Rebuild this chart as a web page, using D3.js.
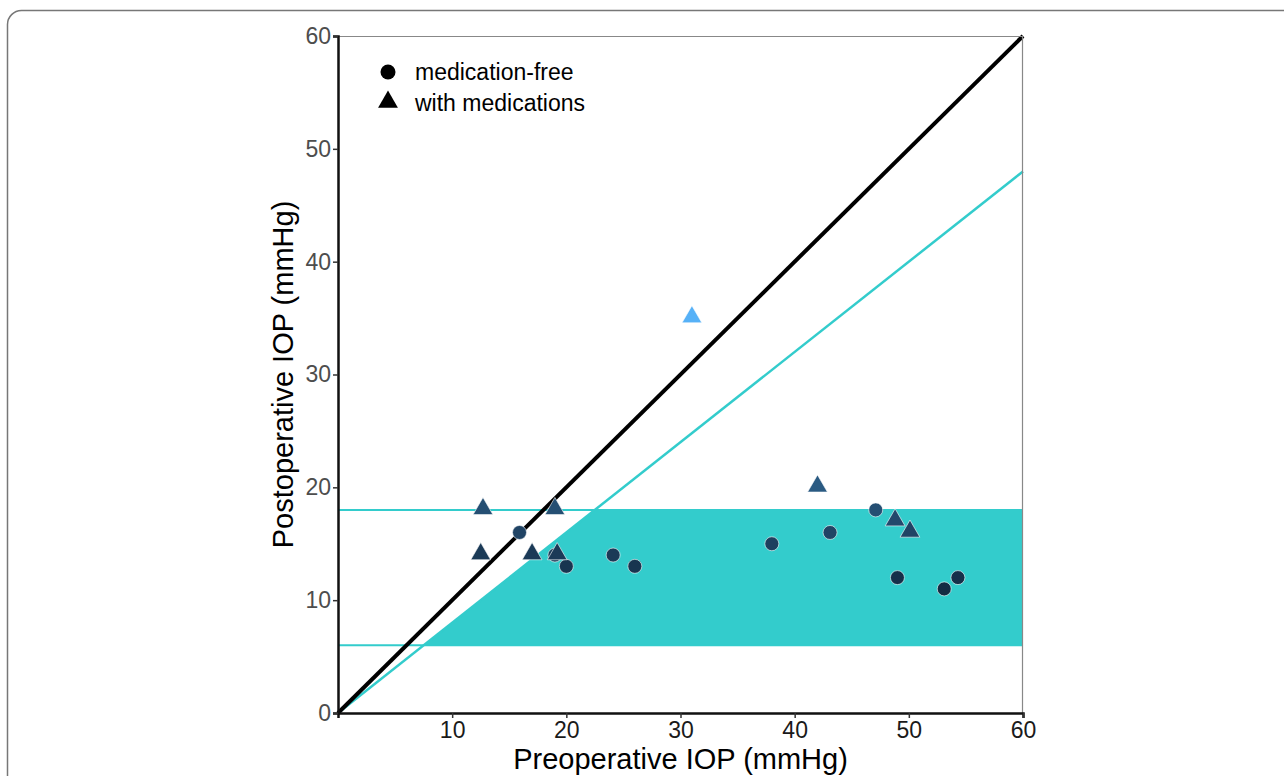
<!DOCTYPE html>
<html>
<head>
<meta charset="utf-8">
<script src="https://cdn.jsdelivr.net/npm/d3@7"></script>
<style>
  body { margin: 0; background: #fff; }
  text { font-family: "Liberation Sans", Arial, sans-serif; }
</style>
</head>
<body>
<div id="chart"></div>
<script>
// preoperative / postoperative IOP (mmHg)
const freePre = [15.9, 19.0, 20.0, 24.1, 26.0, 38.0, 43.1, 47.1, 49.0, 53.1, 54.3];
const freePost = [16, 14, 13, 14, 13, 15, 16, 18, 12, 11, 12];
const medPre = [12.7, 12.5, 17.0, 19.0, 19.2, 31.0, 42.0, 48.8, 50.1];
const medPost = [18, 14, 14, 18, 14, 35, 20, 17, 16];
const xTicks = [10, 20, 30, 40, 50, 60];
const yTicks = [0, 10, 20, 30, 40, 50, 60];
const successBand = [6, 18];   // target IOP range
const reductionRatio = 0.8;     // 20% reduction line

const w = 1284, h = 776;
const margin = { top: 36, right: 261, bottom: 63, left: 338 };
const innerWidth = w - margin.left - margin.right;
const innerHeight = h - margin.top - margin.bottom;

const svg = d3.select("#chart").append("svg")
  .attr("width", w)
  .attr("height", h);

// card frame
svg.append("rect")
  .attr("x", 7.5).attr("y", 10.5)
  .attr("width", w + 20).attr("height", h + 20)
  .attr("rx", 14)
  .attr("fill", "none")
  .attr("stroke", "#777")
  .attr("stroke-width", 1.5);

const xScale = d3.scaleLinear().domain([0, 60]).range([0, innerWidth]);
const yScale = d3.scaleLinear().domain([0, 60]).range([innerHeight, 0]);

const color = d3.scaleLinear()
  .domain([11, 35])
  .range(["#132B43", "#56B1F7"])
  .interpolate(d3.interpolateLab);

const g = svg.append("g")
  .attr("transform", `translate(${margin.left},${margin.top})`);

const cyan = "#33cccc";

// shaded success region: between band limits and below the 20% reduction line
const lo = successBand[0], hi = successBand[1];
const region = [
  [lo / reductionRatio, lo],
  [hi / reductionRatio, hi],
  [60, hi],
  [60, lo]
];
g.append("path")
  .attr("d", d3.line().x(d => xScale(d[0])).y(d => yScale(d[1]))(region) + "Z")
  .attr("fill", cyan);

// horizontal band lines
successBand.forEach(v => {
  g.append("line")
    .attr("x1", xScale(0)).attr("x2", xScale(60))
    .attr("y1", yScale(v)).attr("y2", yScale(v))
    .attr("stroke", cyan)
    .attr("stroke-width", 2);
});

// 20% reduction line
g.append("line")
  .attr("x1", xScale(0)).attr("y1", yScale(0))
  .attr("x2", xScale(60)).attr("y2", yScale(60 * reductionRatio))
  .attr("stroke", cyan)
  .attr("stroke-width", 2.5);

// identity line
g.append("line")
  .attr("x1", xScale(0)).attr("y1", yScale(0))
  .attr("x2", xScale(60)).attr("y2", yScale(60))
  .attr("stroke", "#000")
  .attr("stroke-width", 4);

// top/right frame
g.append("path")
  .attr("d", `M0,0.5H${innerWidth - 0.5}V${innerHeight}`)
  .attr("fill", "none")
  .attr("stroke", "#888")
  .attr("stroke-width", 1.2);

// axes
const xAxisG = g.append("g")
  .attr("transform", `translate(0,${innerHeight})`)
  .call(d3.axisBottom(xScale).tickValues(xTicks).tickSize(5).tickPadding(4));
const yAxisG = g.append("g")
  .call(d3.axisLeft(yScale).tickValues(yTicks).tickSize(5).tickPadding(2));

[xAxisG, yAxisG].forEach(a => {
  a.attr("font-size", null);
  a.select(".domain").attr("stroke", "#111").attr("stroke-width", 2.5);
  a.selectAll(".tick line").attr("stroke", "#333").attr("stroke-width", 1.5);
  a.selectAll("text")
    .attr("font-family", "Liberation Sans, Arial, sans-serif")
    .style("font-size", "23px");
});
xAxisG.selectAll("text").attr("fill", "#1a1a1a");
yAxisG.selectAll("text").attr("fill", "#4d4d4d");

// axis titles
g.append("text")
  .attr("x", innerWidth / 2)
  .attr("y", innerHeight + 56)
  .attr("text-anchor", "middle")
  .style("font-size", "29px")
  .text("Preoperative IOP (mmHg)");

g.append("text")
  .attr("transform", `translate(-45,${innerHeight / 2}) rotate(-90)`)
  .attr("text-anchor", "middle")
  .style("font-size", "29px")
  .text("Postoperative IOP (mmHg)");

// points
const freeData = freePre.map((d, i) => ({ pre: d, post: freePost[i] }));
const medData = medPre.map((d, i) => ({ pre: d, post: medPost[i] }));

g.selectAll(".free")
  .data(freeData)
  .enter()
  .append("circle")
  .attr("class", "free")
  .attr("cx", d => xScale(d.pre))
  .attr("cy", d => yScale(d.post))
  .attr("r", 7)
  .attr("fill", d => color(d.post))
  .attr("stroke", "#fff")
  .attr("stroke-width", 0.6);

const tri = d3.symbol().type(d3.symbolTriangle).size(170);
g.selectAll(".med")
  .data(medData)
  .enter()
  .append("path")
  .attr("class", "med")
  .attr("d", tri)
  .attr("transform", d => `translate(${xScale(d.pre)},${yScale(d.post) - 1})`)
  .attr("fill", d => color(d.post))
  .attr("stroke", "#fff")
  .attr("stroke-width", 0.6);

// legend
const legend = g.append("g").attr("transform", "translate(50,36)");
legend.append("circle").attr("cx", 0).attr("cy", 0).attr("r", 7.5).attr("fill", "#000");
legend.append("text").attr("x", 27).attr("y", 8).style("font-size", "23px").text("medication-free");
legend.append("path").attr("d", tri).attr("transform", "translate(0,30)").attr("fill", "#000");
legend.append("text").attr("x", 27).attr("y", 39).style("font-size", "23px").text("with medications");
</script>
</body>
</html>
